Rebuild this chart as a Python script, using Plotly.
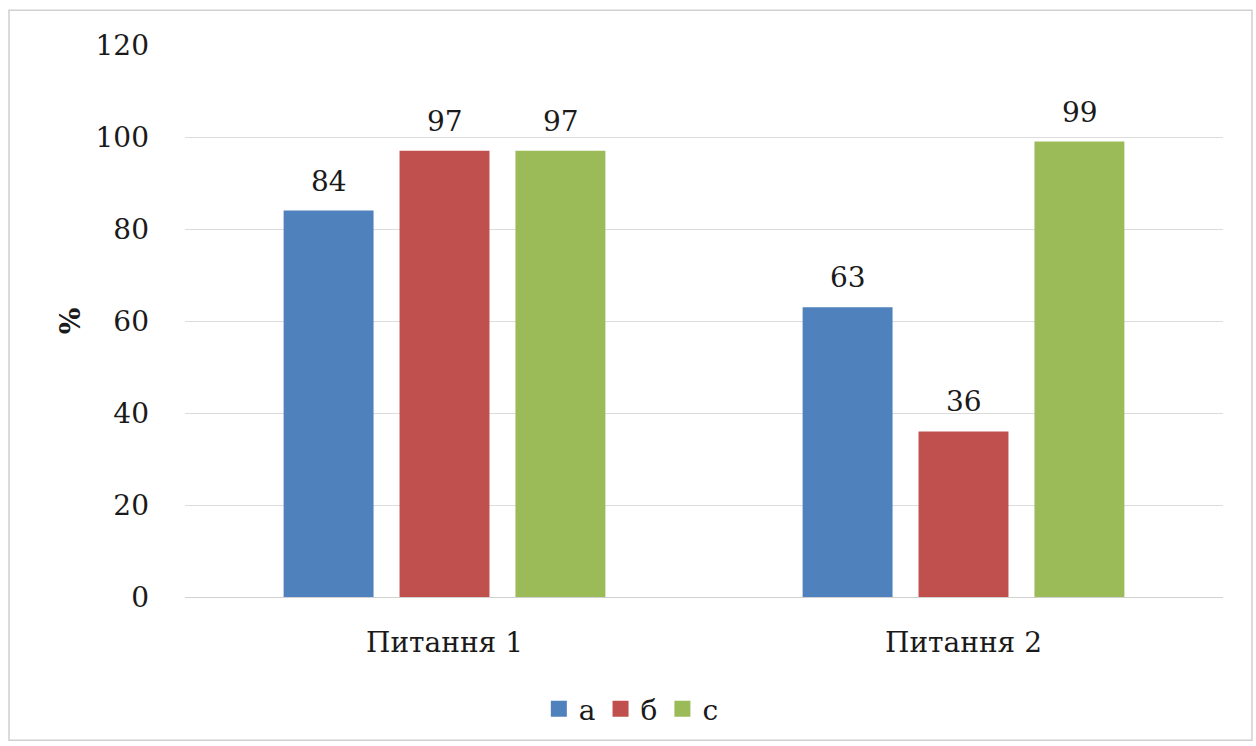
import plotly.graph_objects as go

categories = ["Питання 1", "Питання 2"]
series_names = ["а", "б", "с"]
values_a = [84, 63]
values_b = [97, 36]
values_c = [97, 99]
y_ticks = [0, 20, 40, 60, 80, 100, 120]

colors = ["#4F81BD", "#C0504D", "#9BBB59"]
all_values = [values_a, values_b, values_c]
FONT = "DejaVu Serif"
TXT = "#1a1a1a"
FS = 28

fig = go.Figure()
for name, vals, col in zip(series_names, all_values, colors):
    fig.add_trace(go.Bar(x=categories, y=vals, name=name, marker_color=col,
                         marker_line_width=0, showlegend=False))
# legend entries
for name, col in zip(series_names, colors):
    fig.add_trace(go.Scatter(x=[None], y=[None], mode="markers", name=name,
                             marker=dict(symbol="square", size=18, color=col)))

# data labels
for i, vals in enumerate(all_values):
    for cat, v in zip(categories, vals):
        fig.add_annotation(x=cat, y=v, text=str(v), showarrow=False,
                           xshift=(i - 1) * 116, yanchor="bottom", yshift=11,
                           font=dict(family=FONT, size=FS, color=TXT))

fig.add_shape(type="rect", xref="paper", yref="paper",
              x0=(9 - 185) / 1038, x1=(1252 - 185) / 1038,
              y0=(600 - 744) / 555, y1=(600 - 10) / 555,
              line=dict(color="#d0d0d0", width=1.5), fillcolor="rgba(0,0,0,0)", layer="below")

fig.update_layout(
    width=1256, height=746,
    margin=dict(l=185, r=33, t=45, b=146),
    paper_bgcolor="white", plot_bgcolor="white",
    barmode="group", bargap=0.33, bargroupgap=0.224,
    font=dict(family=FONT, size=FS, color=TXT),
    legend=dict(orientation="h", x=0.43, xanchor="center", y=-0.203, yanchor="middle",
                font=dict(family=FONT, size=FS, color=TXT), itemwidth=30,
                tracegroupgap=0),
    xaxis=dict(showgrid=False, showline=True, linecolor="#d0d0d0", linewidth=1, automargin=False,
               ticks="", ticklabelstandoff=20, tickfont=dict(family=FONT, size=FS)),
    yaxis=dict(range=[0, 120], tickvals=y_ticks, showgrid=True, gridcolor="#dcdcdc", automargin=False,
               gridwidth=1, zeroline=False, showline=False, ticks="",
               ticklabelstandoff=35, tickfont=dict(family=FONT, size=FS),
               title=dict(text="<b>%</b>", standoff=6, font=dict(family=FONT, size=FS))),
)

fig.write_html("out.html")
